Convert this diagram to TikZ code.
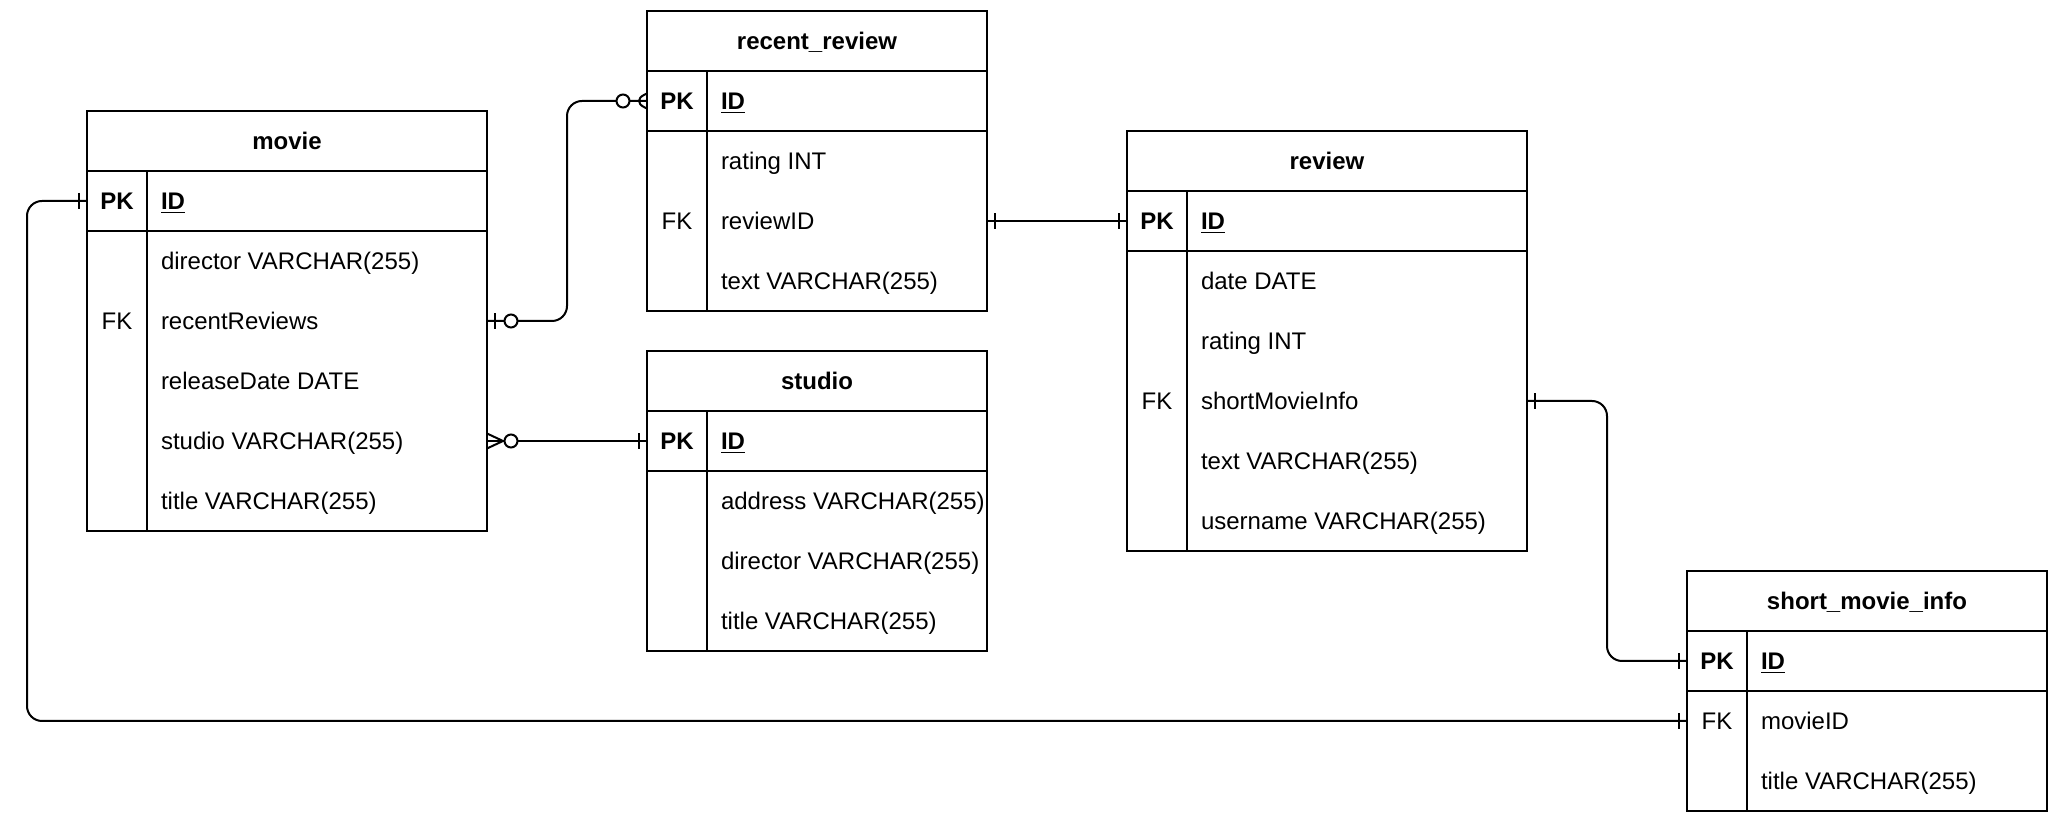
\documentclass[tikz,border=0pt]{standalone}
\usepackage{fontspec}
\setmainfont{Liberation Sans}
\usepackage{tikz}
\usetikzlibrary{positioning,calc,decorations.markings}
\tikzset{
  tblcell/.style={rectangle,draw=black,line width=1pt,inner sep=0pt,outer sep=0pt,
    minimum height=30pt,text height=8.6pt,text depth=0pt,
    font=\fontsize{12pt}{14pt}\selectfont},
  tblhead/.style={tblcell,anchor=north west,font=\fontsize{12pt}{14pt}\selectfont\bfseries},
  keycell/.style={tblcell,minimum width=30pt,font=\fontsize{12pt}{14pt}\selectfont\bfseries},
  fieldtext/.style={rectangle,anchor=west,inner sep=0pt,outer sep=0pt,
    text height=8.6pt,text depth=0pt,font=\fontsize{12pt}{14pt}\selectfont},
  idtext/.style={fieldtext,font=\fontsize{12pt}{14pt}\selectfont\bfseries},
  keytext/.style={fieldtext,anchor=center},
  nextrow/.style={below=30pt of #1.west,anchor=west},
  erline/.style={line width=1pt,color=black},
  onestart/.style={postaction={decorate,decoration={markings,
    mark=at position 4pt with {\draw[erline] (0,-4pt) -- (0,4pt);}}}},
  oneend/.style={postaction={decorate,decoration={markings,
    mark=at position -4pt with {\draw[erline] (0,-4pt) -- (0,4pt);}}}},
  zerostart/.style={postaction={decorate,decoration={markings,
    mark=at position 12pt with {\draw[erline,fill=white] (0,0) circle (3.25pt);}}}},
  zeroend/.style={postaction={decorate,decoration={markings,
    mark=at position -12pt with {\draw[erline,fill=white] (0,0) circle (3.25pt);}}}},
  manystart/.style={postaction={decorate,decoration={markings,
    mark=at position 8pt with {\draw[erline] (-8pt,-3.75pt) -- (0,0) -- (-8pt,3.75pt);}}}},
  manyend/.style={postaction={decorate,decoration={markings,
    mark=at position -8pt with {\draw[erline] (8pt,-3.75pt) -- (0,0) -- (8pt,3.75pt);}}}},
}

\begin{document}
\begin{tikzpicture}[x=0.5pt,y=-0.5pt]
  \useasboundingbox (0,0) rectangle (2058,822);

  % movie
  \node[tblhead,minimum width=200pt] (movie) at (87,111) {movie};
  \node[keycell,below=0pt of movie.south west,anchor=north west] (movie-pk) {PK};
  \node[tblcell,right=0pt of movie-pk,minimum width=170pt] (movie-idrow) {};
  \node[idtext] (movie-id) at ([xshift=7pt]movie-idrow.west) {\underline{ID}};
  \node[tblcell,below=0pt of movie-pk,minimum width=30pt,minimum height=150pt] (movie-keys) {};
  \node[tblcell,right=0pt of movie-keys,minimum width=170pt,minimum height=150pt] (movie-body) {};
  \node[fieldtext] (movie-1) at ([xshift=7pt,yshift=-15pt]movie-body.north west) {director VARCHAR(255)};
  \node[fieldtext,nextrow=movie-1] (movie-2) {recentReviews};
  \node[fieldtext,nextrow=movie-2] (movie-3) {releaseDate DATE};
  \node[fieldtext,nextrow=movie-3] (movie-4) {studio VARCHAR(255)};
  \node[fieldtext,nextrow=movie-4] (movie-5) {title VARCHAR(255)};
  \node[keytext] (movie-fk) at (movie-keys |- movie-2) {FK};

  % recent_review
  \node[tblhead,minimum width=170pt] (rr) at (647,11) {recent\_review};
  \node[keycell,below=0pt of rr.south west,anchor=north west] (rr-pk) {PK};
  \node[tblcell,right=0pt of rr-pk,minimum width=140pt] (rr-idrow) {};
  \node[idtext] (rr-id) at ([xshift=7pt]rr-idrow.west) {\underline{ID}};
  \node[tblcell,below=0pt of rr-pk,minimum width=30pt,minimum height=90pt] (rr-keys) {};
  \node[tblcell,right=0pt of rr-keys,minimum width=140pt,minimum height=90pt] (rr-body) {};
  \node[fieldtext] (rr-1) at ([xshift=7pt,yshift=-15pt]rr-body.north west) {rating INT};
  \node[fieldtext,nextrow=rr-1] (rr-2) {reviewID};
  \node[fieldtext,nextrow=rr-2] (rr-3) {text VARCHAR(255)};
  \node[keytext] (rr-fk) at (rr-keys |- rr-2) {FK};

  % studio
  \node[tblhead,minimum width=170pt] (studio) at (647,351) {studio};
  \node[keycell,below=0pt of studio.south west,anchor=north west] (studio-pk) {PK};
  \node[tblcell,right=0pt of studio-pk,minimum width=140pt] (studio-idrow) {};
  \node[idtext] (studio-id) at ([xshift=7pt]studio-idrow.west) {\underline{ID}};
  \node[tblcell,below=0pt of studio-pk,minimum width=30pt,minimum height=90pt] (studio-keys) {};
  \node[tblcell,right=0pt of studio-keys,minimum width=140pt,minimum height=90pt] (studio-body) {};
  \node[fieldtext] (studio-1) at ([xshift=7pt,yshift=-15pt]studio-body.north west) {address VARCHAR(255)};
  \node[fieldtext,nextrow=studio-1] (studio-2) {director VARCHAR(255)};
  \node[fieldtext,nextrow=studio-2] (studio-3) {title VARCHAR(255)};

  % review
  \node[tblhead,minimum width=200pt] (review) at (1127,131) {review};
  \node[keycell,below=0pt of review.south west,anchor=north west] (review-pk) {PK};
  \node[tblcell,right=0pt of review-pk,minimum width=170pt] (review-idrow) {};
  \node[idtext] (review-id) at ([xshift=7pt]review-idrow.west) {\underline{ID}};
  \node[tblcell,below=0pt of review-pk,minimum width=30pt,minimum height=150pt] (review-keys) {};
  \node[tblcell,right=0pt of review-keys,minimum width=170pt,minimum height=150pt] (review-body) {};
  \node[fieldtext] (review-1) at ([xshift=7pt,yshift=-15pt]review-body.north west) {date DATE};
  \node[fieldtext,nextrow=review-1] (review-2) {rating INT};
  \node[fieldtext,nextrow=review-2] (review-3) {shortMovieInfo};
  \node[fieldtext,nextrow=review-3] (review-4) {text VARCHAR(255)};
  \node[fieldtext,nextrow=review-4] (review-5) {username VARCHAR(255)};
  \node[keytext] (review-fk) at (review-keys |- review-3) {FK};

  % short_movie_info
  \node[tblhead,minimum width=180pt] (smi) at (1687,571) {short\_movie\_info};
  \node[keycell,below=0pt of smi.south west,anchor=north west] (smi-pk) {PK};
  \node[tblcell,right=0pt of smi-pk,minimum width=150pt] (smi-idrow) {};
  \node[idtext] (smi-id) at ([xshift=7pt]smi-idrow.west) {\underline{ID}};
  \node[tblcell,below=0pt of smi-pk,minimum width=30pt,minimum height=60pt] (smi-keys) {};
  \node[tblcell,right=0pt of smi-keys,minimum width=150pt,minimum height=60pt] (smi-body) {};
  \node[fieldtext] (smi-1) at ([xshift=7pt,yshift=-15pt]smi-body.north west) {movieID};
  \node[fieldtext,nextrow=smi-1] (smi-2) {title VARCHAR(255)};
  \node[keytext] (smi-fk) at (smi-keys |- smi-1) {FK};

  % relations
  \draw[erline,rounded corners=7.5pt,onestart,oneend] (movie-pk.west) -- ++(-60,0) |- (smi-keys.west |- smi-1);
  \draw[erline,rounded corners=7.5pt,onestart,zerostart,zeroend,manyend] (movie-body.east |- movie-2) -- ++(80,0) |- (rr-pk.west);
  \draw[erline,manystart,zerostart,oneend] (movie-body.east |- movie-4) -- (studio-pk.west);
  \draw[erline,onestart,oneend] (rr-body.east |- rr-2) -- (review-pk.west);
  \draw[erline,rounded corners=7.5pt,onestart,oneend] (review-body.east |- review-3) -- ++(80,0) |- (smi-pk.west);
\end{tikzpicture}
\end{document}
